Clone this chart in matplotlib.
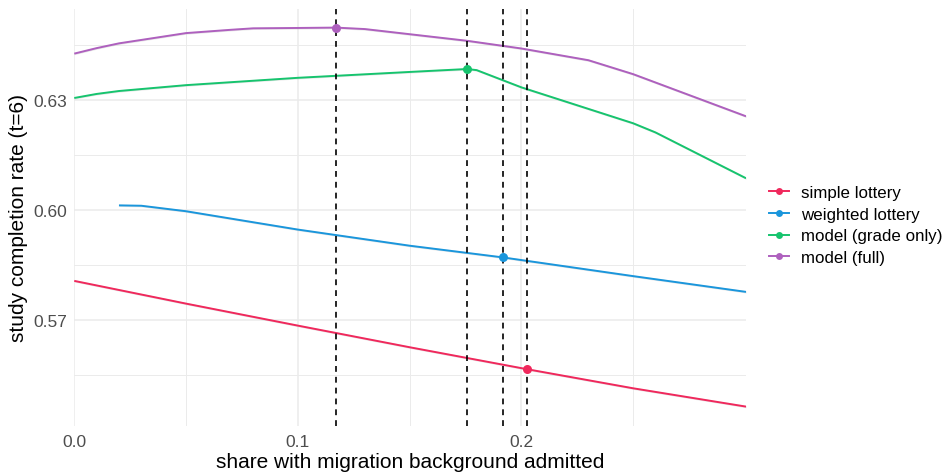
import matplotlib
matplotlib.use("Agg")
import matplotlib.pyplot as plt
from matplotlib.lines import Line2D

plt.rcParams['font.family'] = ['Liberation Sans', 'DejaVu Sans']

# Simulated completion rate by admitted share, per allocation rule
red_x = [0.0, 0.05, 0.10, 0.15, 0.2026, 0.25, 0.3005]
red_y = [0.5807, 0.5745, 0.5685, 0.5626, 0.5566, 0.5514, 0.5464]

blue_x = [0.02, 0.03, 0.05, 0.10, 0.15, 0.1918, 0.25, 0.3005]
blue_y = [0.6013, 0.6012, 0.5997, 0.5947, 0.5903, 0.5871, 0.5820, 0.5777]

green_x = [0.0, 0.01, 0.02, 0.05, 0.10, 0.15, 0.1757, 0.18, 0.20, 0.25, 0.26, 0.3005]
green_y = [0.6306, 0.6317, 0.6325, 0.6341, 0.6361, 0.6377, 0.6385, 0.6382, 0.6335, 0.6237, 0.6212, 0.6087]

purple_x = [0.0, 0.01, 0.02, 0.05, 0.07, 0.08, 0.10, 0.117, 0.13, 0.15, 0.1757, 0.20, 0.23, 0.25, 0.3005]
purple_y = [0.6427, 0.6442, 0.6455, 0.6483, 0.6492, 0.6496, 0.6497, 0.6498, 0.6494, 0.6480, 0.6462, 0.6441, 0.6409, 0.6371, 0.6256]

labels = ["simple lottery", "weighted lottery", "model (grade only)", "model (full)"]
colors = ["#F0285C", "#1A96DC", "#16C46E", "#AE60BE"]

# Optimal share per rule and the completion rate reached there
opt_x = [0.2026, 0.1918, 0.1757, 0.117]
opt_y = [0.5566, 0.5871, 0.6385, 0.6498]

xticks = [0.0, 0.1, 0.2]
yticks = [0.57, 0.60, 0.63]

fig = plt.figure(figsize=(9.46, 4.77), dpi=100)
ax = fig.add_axes([0.0785, 0.1055, 0.7101, 0.8745])

series = [(red_x, red_y), (blue_x, blue_y), (green_x, green_y), (purple_x, purple_y)]
for (xs, ys), c in zip(series, colors):
    ax.fill_between(xs, [v - 0.0003 for v in ys], [v + 0.0003 for v in ys],
                    color="#BDBDBD", alpha=0.35, lw=0, zorder=2)
    ax.plot(xs, ys, color=c, lw=1.4, zorder=3, solid_capstyle='butt')

for xv in opt_x:
    ax.axvline(xv, color="black", lw=1.2, ls=(0, (3.5, 3)), zorder=4)

for xv, yv, c in zip(opt_x, opt_y, colors):
    ax.plot([xv], [yv], 'o', color=c, ms=6.5, mec='none', zorder=5)

ax.set_xlim(0.0, 0.3005)
ax.set_ylim(0.5412, 0.655)
ax.set_xticks(xticks)
ax.set_xticklabels(["0.0", "0.1", "0.2"])
ax.set_xticks([0.05, 0.15, 0.25], minor=True)
ax.set_yticks(yticks)
ax.set_yticklabels(["0.57", "0.60", "0.63"])
ax.set_yticks([0.555, 0.585, 0.615, 0.645], minor=True)

ax.grid(True, which='major', color="#EBEBEB", lw=1.1, zorder=0)
ax.grid(True, which='minor', color="#EBEBEB", lw=0.7, zorder=0)
ax.set_axisbelow(True)
for s in ax.spines.values():
    s.set_visible(False)
ax.tick_params(which='both', length=0)
ax.tick_params(axis='both', labelsize=12.5, labelcolor="#4D4D4D")
ax.tick_params(axis='x', pad=6)
ax.tick_params(axis='y', pad=5)

ax.set_xlabel("share with migration background admitted", fontsize=15, color="black", labelpad=2)
ax.set_ylabel("study completion rate (t=6)", fontsize=15, color="black", labelpad=4)

handles = [Line2D([0], [0], color=c, lw=1.4, marker='o', ms=5, mec='none') for c in colors]
fig.legend(handles, labels, loc='center left', bbox_to_anchor=(0.806, 0.526),
           frameon=False, fontsize=12.15, handlelength=1.18, handletextpad=0.72,
           labelspacing=0.4, borderaxespad=0)

fig.savefig("out.png", dpi=100)
